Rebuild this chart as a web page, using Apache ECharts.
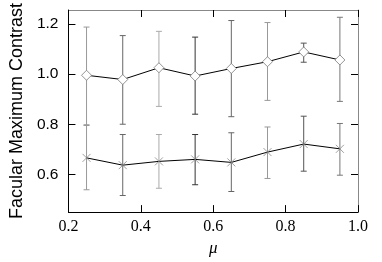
<!DOCTYPE html>
<html><head><meta charset="utf-8">
<script src="https://cdn.jsdelivr.net/npm/echarts@6/dist/echarts.min.js"></script>
<style>html,body{margin:0;padding:0;background:#fff}#c{width:382px;height:262px}</style>
</head><body><div id="c"></div>
<script>
const mu = [0.25, 0.35, 0.45, 0.55, 0.65, 0.75, 0.85, 0.95];
const upperVal = [0.995, 0.978, 1.025, 0.992, 1.022, 1.049, 1.088, 1.056];
const upperHi  = [1.187, 1.153, 1.170, 1.147, 1.213, 1.205, 1.123, 1.226];
const upperLo  = [0.795, 0.800, 0.871, 0.840, 0.830, 0.895, 1.047, 0.891];
const lowerVal = [0.666, 0.637, 0.652, 0.660, 0.648, 0.689, 0.721, 0.702];
const lowerHi  = [0.798, 0.759, 0.759, 0.759, 0.766, 0.789, 0.832, 0.803];
const lowerLo  = [0.539, 0.516, 0.545, 0.559, 0.532, 0.584, 0.613, 0.597];
const barShade = ['#999', '#666', '#aaa', '#333', '#666', '#999', '#555', '#777'];
const yTicks = [0.6, 0.8, 1.0, 1.2];

function errData(lo, hi) { return mu.map((m, i) => [m, lo[i], hi[i], i]); }
function renderErr(params, api) {
  const x = api.value(0);
  const a = api.coord([x, api.value(1)]);
  const b = api.coord([x, api.value(2)]);
  const c = barShade[api.value(3)];
  const w = 3;
  const st = { stroke: c, lineWidth: 1 };
  return { type: 'group', children: [
    { type: 'line', shape: { x1: a[0], y1: a[1], x2: b[0], y2: b[1] }, style: st },
    { type: 'line', shape: { x1: a[0]-w, y1: a[1], x2: a[0]+w, y2: a[1] }, style: st },
    { type: 'line', shape: { x1: b[0]-w, y1: b[1], x2: b[0]+w, y2: b[1] }, style: st }
  ]};
}
const serif = 'Liberation Serif';
const sans = 'Liberation Sans';
const chart = echarts.init(document.getElementById('c'));
chart.setOption({
  animation: false,
  grid: { left: 64, right: 24, top: 10, bottom: 46 },
  xAxis: [{
    type: 'value', min: 0.2, max: 1.0, interval: 0.2, position: 'bottom',
    name: 'μ', nameLocation: 'middle', nameGap: 27,
    nameTextStyle: { fontFamily: serif, fontStyle: 'italic', fontSize: 17, color: '#000' },
    axisLine: { lineStyle: { color: '#000', width: 1 } },
    axisTick: { inside: true, length: 7, lineStyle: { color: '#000' } },
    axisLabel: { fontFamily: serif, fontSize: 16, color: '#000', margin: 7, formatter: v => v.toFixed(1) },
    splitLine: { show: false }
  }, {
    type: 'value', min: 0.2, max: 1.0, interval: 0.2, position: 'top',
    axisLine: { show: true, lineStyle: { color: '#888', width: 1 } },
    axisTick: { inside: true, length: 7, lineStyle: { color: '#000' } },
    axisLabel: { show: false }, splitLine: { show: false }
  }],
  yAxis: [{
    type: 'value', min: 0.45, max: 1.255, position: 'left',
    name: 'Facular Maximum Contrast', nameLocation: 'middle', nameGap: 40,
    nameTextStyle: { fontFamily: sans, fontSize: 18, color: '#000' },
    axisLine: { show: true, lineStyle: { color: '#000', width: 1 } },
    axisTick: { inside: true, length: 7, customValues: yTicks, lineStyle: { color: '#000' } },
    axisLabel: { fontFamily: sans, fontSize: 15.5, color: '#000', margin: 10, customValues: yTicks, formatter: v => v.toFixed(1) },
    splitLine: { show: false }
  }, {
    type: 'value', min: 0.45, max: 1.255, position: 'right',
    axisLine: { show: true, lineStyle: { color: '#888', width: 1 } },
    axisTick: { inside: true, length: 7, customValues: yTicks, lineStyle: { color: '#000' } },
    axisLabel: { show: false }, splitLine: { show: false }
  }],
  series: [
    { type: 'custom', renderItem: renderErr, data: errData(upperLo, upperHi), encode: { x: 0, y: [1, 2] }, z: 1 },
    { type: 'custom', renderItem: renderErr, data: errData(lowerLo, lowerHi), encode: { x: 0, y: [1, 2] }, z: 1 },
    { type: 'line', data: mu.map((m, i) => [m, upperVal[i]]), symbol: 'path://M5,0L10,5L5,10L0,5Z', symbolSize: 10,
      lineStyle: { color: '#000', width: 1 }, itemStyle: { color: '#fff', borderColor: '#777', borderWidth: 0.8 }, z: 3 },
    { type: 'line', data: mu.map((m, i) => [m, lowerVal[i]]), symbol: 'path://M0,0L10,10M10,0L0,10', symbolSize: 8,
      lineStyle: { color: '#000', width: 1 }, itemStyle: { color: 'transparent', borderColor: '#888', borderWidth: 0.8 }, z: 3 }
  ]
});
</script></body></html>
